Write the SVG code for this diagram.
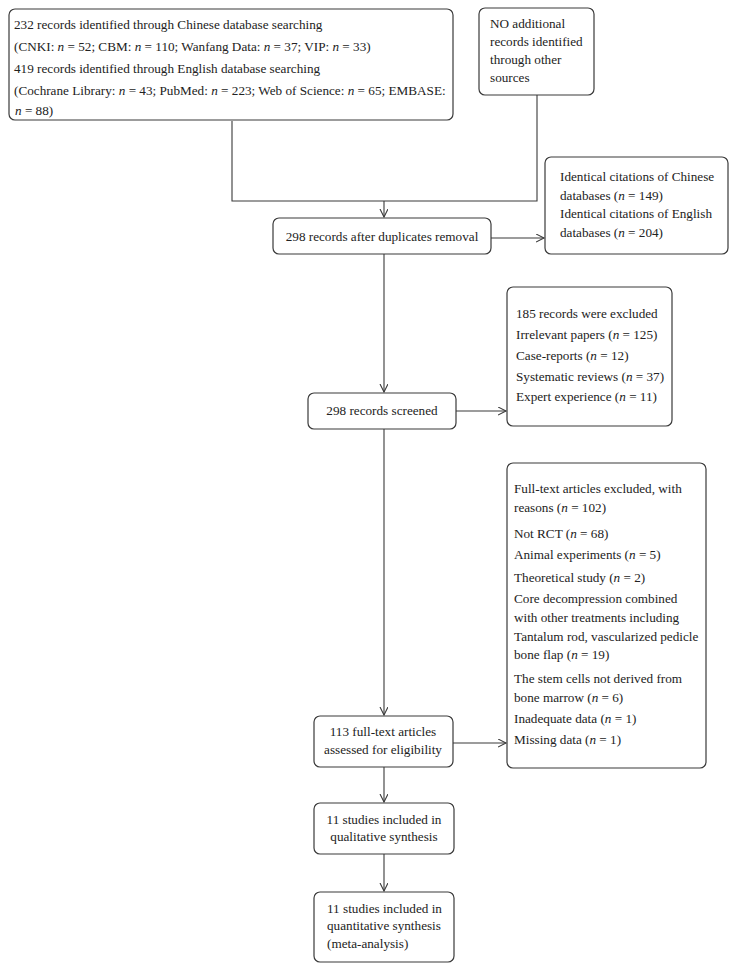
<svg xmlns="http://www.w3.org/2000/svg" width="736" height="970" viewBox="0 0 736 970">
<style>
.box{fill:#fff;stroke:#3a3a3a;stroke-width:1.2}
text{font-family:"Liberation Serif","Times New Roman",serif;font-size:13.2px;fill:#222}
.c{text-anchor:middle}
.ln{fill:none;stroke:#3a3a3a;stroke-width:1.1}
</style>
<defs>
<marker id="ah" markerWidth="10" markerHeight="10" refX="8" refY="4" orient="auto" markerUnits="userSpaceOnUse">
<path d="M0,0 L8,4 L0,8" fill="none" stroke="#3a3a3a" stroke-width="1.1"/>
</marker>
</defs>
<rect width="736" height="970" fill="#fff"/>
<g id="connectors">
<polyline class="ln" points="232,121 232,201 537,201 537,95"/>
<line class="ln" x1="384" y1="201" x2="384" y2="217" marker-end="url(#ah)"/>
<line class="ln" x1="491" y1="238" x2="544" y2="238" marker-end="url(#ah)"/>
<line class="ln" x1="384" y1="254" x2="384" y2="392" marker-end="url(#ah)"/>
<line class="ln" x1="456" y1="411" x2="506" y2="411" marker-end="url(#ah)"/>
<line class="ln" x1="384" y1="429" x2="384" y2="715" marker-end="url(#ah)"/>
<line class="ln" x1="453" y1="743" x2="506" y2="743" marker-end="url(#ah)"/>
<line class="ln" x1="384" y1="767" x2="384" y2="802" marker-end="url(#ah)"/>
<line class="ln" x1="384" y1="854" x2="384" y2="891" marker-end="url(#ah)"/>
</g>
<g id="identified">
<rect class="box" x="9" y="9" width="444" height="111" rx="6"/>
<text x="14" y="29">232 records identified through Chinese database searching</text>
<text x="14" y="51">(CNKI: <tspan font-style="italic">n</tspan> = 52; CBM: <tspan font-style="italic">n</tspan> = 110; Wanfang Data: <tspan font-style="italic">n</tspan> = 37; VIP: <tspan font-style="italic">n</tspan> = 33)</text>
<text x="14" y="73">419 records identified through English database searching</text>
<text x="14" y="95">(Cochrane Library: <tspan font-style="italic">n</tspan> = 43; PubMed: <tspan font-style="italic">n</tspan> = 223; Web of Science: <tspan font-style="italic">n</tspan> = 65; EMBASE:</text>
<text x="15" y="115"><tspan font-style="italic">n</tspan> = 88)</text>
</g>
<g id="other">
<rect class="box" x="479" y="8" width="115" height="87" rx="6"/>
<text x="490" y="28">NO additional</text>
<text x="490" y="46">records identified</text>
<text x="490" y="64">through other</text>
<text x="490" y="82">sources</text>
</g>
<g id="dedup">
<rect class="box" x="273" y="218" width="218" height="36" rx="6"/>
<text class="c" x="382" y="241">298 records after duplicates removal</text>
</g>
<g id="identical">
<rect class="box" x="545" y="157" width="183" height="97" rx="6"/>
<text x="560" y="181">Identical citations of Chinese</text>
<text x="560" y="200">databases (<tspan font-style="italic">n</tspan> = 149)</text>
<text x="560" y="218">Identical citations of English</text>
<text x="560" y="237">databases (<tspan font-style="italic">n</tspan> = 204)</text>
</g>
<g id="screened">
<rect class="box" x="308" y="393" width="148" height="36" rx="6"/>
<text class="c" x="382" y="415">298 records screened</text>
</g>
<g id="excluded1">
<rect class="box" x="507" y="287" width="165" height="139" rx="6"/>
<text x="516" y="318">185 records were excluded</text>
<text x="516" y="339">Irrelevant papers (<tspan font-style="italic">n</tspan> = 125)</text>
<text x="516" y="360">Case-reports (<tspan font-style="italic">n</tspan> = 12)</text>
<text x="516" y="381">Systematic reviews (<tspan font-style="italic">n</tspan> = 37)</text>
<text x="516" y="401">Expert experience (<tspan font-style="italic">n</tspan> = 11)</text>
</g>
<g id="fulltext">
<rect class="box" x="314" y="716" width="139" height="51" rx="6"/>
<text class="c" x="383" y="736">113 full-text articles</text>
<text class="c" x="383" y="754">assessed for eligibility</text>
</g>
<g id="excluded2">
<rect class="box" x="507" y="463" width="199" height="305" rx="6"/>
<text x="514" y="493">Full-text articles excluded, with</text>
<text x="514" y="512">reasons (<tspan font-style="italic">n</tspan> = 102)</text>
<text x="514" y="538">Not RCT (<tspan font-style="italic">n</tspan> = 68)</text>
<text x="514" y="559">Animal experiments (<tspan font-style="italic">n</tspan> = 5)</text>
<text x="514" y="582">Theoretical study (<tspan font-style="italic">n</tspan> = 2)</text>
<text x="514" y="603">Core decompression combined</text>
<text x="514" y="622">with other treatments including</text>
<text x="514" y="641">Tantalum rod, vascularized pedicle</text>
<text x="514" y="659">bone flap (<tspan font-style="italic">n</tspan> = 19)</text>
<text x="514" y="683">The stem cells not derived from</text>
<text x="514" y="702">bone marrow (<tspan font-style="italic">n</tspan> = 6)</text>
<text x="514" y="723">Inadequate data (<tspan font-style="italic">n</tspan> = 1)</text>
<text x="514" y="744">Missing data (<tspan font-style="italic">n</tspan> = 1)</text>
</g>
<g id="qualitative">
<rect class="box" x="314" y="803" width="140" height="51" rx="6"/>
<text class="c" x="384" y="824">11 studies included in</text>
<text class="c" x="384" y="841">qualitative synthesis</text>
</g>
<g id="quantitative">
<rect class="box" x="314" y="892" width="140" height="70" rx="6"/>
<text x="327" y="913">11 studies included in</text>
<text x="327" y="930">quantitative synthesis</text>
<text x="327" y="948">(meta-analysis)</text>
</g>
</svg>
